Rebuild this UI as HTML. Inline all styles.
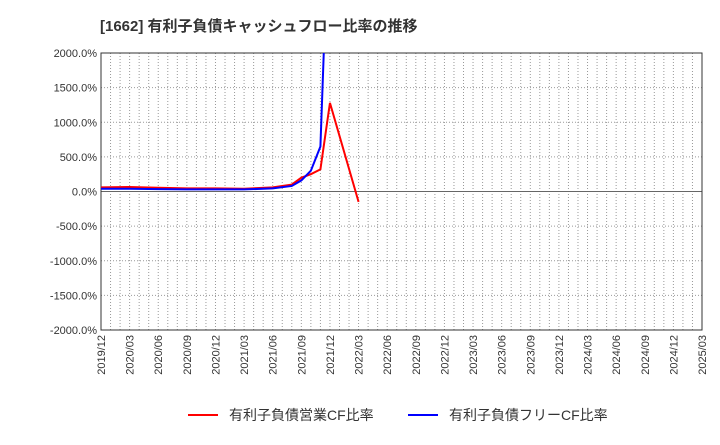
<!DOCTYPE html>
<html><head><meta charset="utf-8"><style>
body{margin:0;background:#fff;font-family:"Liberation Sans","Noto Sans CJK JP",sans-serif;}
svg text{font-family:"Liberation Sans","Noto Sans CJK JP",sans-serif;}
</style></head><body>
<svg id="c" width="720" height="440">
<text x="100" y="31" font-size="15" font-weight="bold" fill="#333">[1662]  有利子負債キャッシュフロー比率の推移</text>
<defs><clipPath id="pc"><rect x="101" y="53" width="601" height="277"/></clipPath></defs>
<g id="grid"></g><g id="axes"></g><g id="series" clip-path="url(#pc)"></g>
<g>
<line x1="188" y1="415" x2="218" y2="415" stroke="#f00" stroke-width="2"/>
<text x="229" y="420" font-size="14" fill="#333">有利子負債営業CF比率</text>
<line x1="408" y1="415" x2="438" y2="415" stroke="#00f" stroke-width="2"/>
<text x="449" y="420" font-size="14" fill="#333">有利子負債フリーCF比率</text>
</g>
</svg>
<script>
const xLabels=["2019/12","2020/03","2020/06","2020/09","2020/12","2021/03","2021/06","2021/09","2021/12","2022/03","2022/06","2022/09","2022/12","2023/03","2023/06","2023/09","2023/12","2024/03","2024/06","2024/09","2024/12","2025/03"];
const yTicks=[2000,1500,1000,500,0,-500,-1000,-1500,-2000];
const redMonths=[0,3,6,9,12,15,18,20,21,22,23,24,27];
const redValues=[60,65,55,45,45,40,60,100,200,250,320,1280,-150];
const blueMonths=[0,3,6,9,12,15,18,20,21,22,23,24];
const blueValues=[40,40,35,30,30,30,45,80,160,300,650,4500];
const NS="http://www.w3.org/2000/svg";
const X0=101,X1=702,Y0=53,Y1=330;
const xs=m=>X0+(X1-X0)*m/63;
const ys=v=>Y0+(2000-v)/4000*(Y1-Y0);
function mk(t,a,p){const e=document.createElementNS(NS,t);for(const k in a)e.setAttribute(k,a[k]);p.appendChild(e);return e;}
const g=document.getElementById('grid'),ax=document.getElementById('axes'),s=document.getElementById('series');
for(let m=1;m<63;m++){const l=mk('line',{x1:xs(m),x2:xs(m),y1:Y0,y2:Y1,stroke:'#999','stroke-dasharray':'1,2'},g);

}
yTicks.forEach(v=>{const l=mk('line',{x1:X0,x2:X1,y1:ys(v),y2:ys(v),stroke:v===0?'#666':'#999','stroke-dasharray':v===0?'':'1,2'},g);


const t=mk('text',{x:X0-4,y:ys(v)+4,'text-anchor':'end','font-size':11,fill:'#333'},ax);t.textContent=v.toFixed(1)+'%';

});
xLabels.forEach((lb,i)=>{const x=xs(i*3);const t=mk('text',{x:x+4,y:Y1+5,'text-anchor':'end','font-size':11,fill:'#333',transform:`rotate(-90 ${x+4} ${Y1+5})`},ax);t.textContent=lb;

});
const fr=mk('rect',{x:X0,y:Y0,width:X1-X0,height:Y1-Y0,fill:'none',stroke:'#333'},ax);


function line(ms,vs,c,n){const p=mk('polyline',{points:ms.map((m,i)=>xs(m)+','+ys(vs[i])).join(' '),fill:'none',stroke:c,'stroke-width':2},s);

}
line(redMonths,redValues,'#f00','operating-cf-ratio-line');
line(blueMonths,blueValues,'#00f','free-cf-ratio-line');
</script>
</body></html>
